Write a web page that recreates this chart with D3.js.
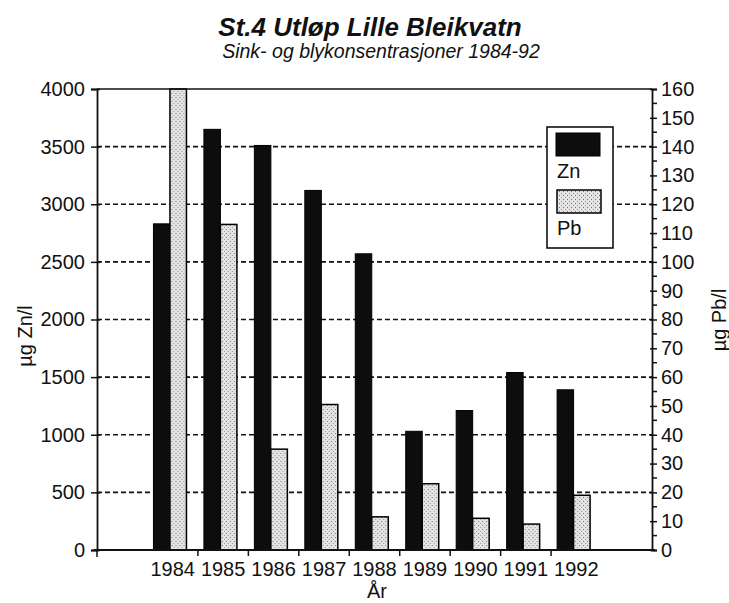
<!DOCTYPE html>
<html>
<head>
<meta charset="utf-8">
<script src="https://cdn.jsdelivr.net/npm/d3@7"></script>
<style>
  body { margin: 0; background: #fff; }
  text { font-family: "Liberation Sans", Arial, sans-serif; fill: #111; }
</style>
</head>
<body>
<div id="chart"></div>
<script>
// data
var years = ["1984", "1985", "1986", "1987", "1988", "1989", "1990", "1991", "1992"];
var zn = [2830, 3650, 3510, 3120, 2570, 1030, 1210, 1540, 1390];   // µg Zn/l
var pb = [160, 113, 35, 50.5, 11.5, 23, 11, 9, 19];                  // µg Pb/l
var znTicks = [0, 500, 1000, 1500, 2000, 2500, 3000, 3500, 4000];
var pbTicks = [0, 10, 20, 30, 40, 50, 60, 70, 80, 90, 100, 110, 120, 130, 140, 150, 160];
var seriesNames = ["Zn", "Pb"];

var W = 729, H = 603,
    m = {top: 89, right: 77, bottom: 53, left: 97};  // plot box 97..652 x 89..550
var iw = W - m.left - m.right, ih = H - m.top - m.bottom;

var svg = d3.select("#chart").append("svg")
    .attr("width", W).attr("height", H);

var defs = svg.append("defs");
// stipple for the Pb bars
var pat = defs.append("pattern").attr("id", "stip")
    .attr("width", 4).attr("height", 4).attr("patternUnits", "userSpaceOnUse");
pat.append("rect").attr("width", 4).attr("height", 4).attr("fill", "#e4e4e4");
pat.append("rect").attr("x", 0).attr("y", 0).attr("width", 1).attr("height", 1).attr("fill", "#777");
pat.append("rect").attr("x", 2).attr("y", 2).attr("width", 1).attr("height", 1).attr("fill", "#999");

var g = svg.append("g").attr("transform", "translate(" + m.left + "," + m.top + ")");

// 11 slots: empty, 1984..1992, empty
var slot = iw / (years.length + 2);
var x = d3.scaleBand().domain(years).range([slot, iw - slot]).paddingInner(0).paddingOuter(0);
var x1 = d3.scaleBand().domain(seriesNames).range([6, 39]);
var yZn = d3.scaleLinear().domain([0, 4000]).range([ih, 0]);
var yPb = d3.scaleLinear().domain([0, 160]).range([ih, 0]);

// dashed gridlines
g.selectAll(".grid").data(znTicks.filter(function(d) { return d > 0 && d < 4000; }))
  .enter().append("line")
    .attr("x1", 0).attr("x2", iw)
    .attr("y1", function(d) { return yZn(d); }).attr("y2", function(d) { return yZn(d); })
    .attr("stroke", "#111").attr("stroke-width", 1.7)
    .attr("stroke-dasharray", "5,3");

// bars
var grp = g.selectAll(".yr").data(years).enter().append("g")
    .attr("transform", function(d) { return "translate(" + x(d) + ",0)"; });

grp.append("rect")
    .attr("x", x1("Zn")).attr("width", x1.bandwidth())
    .attr("y", function(d, i) { return yZn(zn[i]); })
    .attr("height", function(d, i) { return ih - yZn(zn[i]); })
    .attr("fill", "#0d0d0d").attr("stroke", "#000").attr("stroke-width", 1);

grp.append("rect")
    .attr("x", x1("Pb")).attr("width", x1.bandwidth())
    .attr("y", function(d, i) { return yPb(pb[i]); })
    .attr("height", function(d, i) { return ih - yPb(pb[i]); })
    .attr("fill", "url(#stip)").attr("stroke", "#000").attr("stroke-width", 1.5);

// top frame line
g.append("line").attr("x1", 0).attr("x2", iw).attr("y1", 0).attr("y2", 0)
    .attr("stroke", "#111").attr("stroke-width", 1.6);

// left axis
var la = g.append("g").call(d3.axisLeft(yZn).tickValues(znTicks).tickFormat(d3.format("d")).tickSize(6).tickPadding(6));
la.select(".domain").attr("stroke", "#111").attr("stroke-width", 1.8);
la.selectAll(".tick line").attr("x2", -6).attr("x1", 3).attr("stroke", "#111").attr("stroke-width", 1.5);
la.selectAll("text").attr("font-size", 20).attr("font-family", "Liberation Sans, Arial, sans-serif").attr("fill", "#111");

// right axis with minor ticks every 5
var ra = g.append("g").attr("transform", "translate(" + iw + ",0)")
    .call(d3.axisRight(yPb).tickValues(pbTicks).tickSize(5).tickPadding(4));
ra.select(".domain").attr("stroke", "#111").attr("stroke-width", 1.8);
ra.selectAll(".tick line").attr("x1", -2).attr("stroke", "#111").attr("stroke-width", 1.5);
ra.selectAll("text").attr("font-size", 20).attr("font-family", "Liberation Sans, Arial, sans-serif").attr("fill", "#111");
ra.selectAll(".minor").data(d3.range(5, 160, 10)).enter().append("line")
    .attr("x1", 0).attr("x2", 5)
    .attr("y1", function(d) { return yPb(d); }).attr("y2", function(d) { return yPb(d); })
    .attr("stroke", "#111").attr("stroke-width", 1.5);

// bottom axis: baseline, ticks between categories, year labels
g.append("line").attr("x1", -3).attr("x2", iw + 3).attr("y1", ih).attr("y2", ih)
    .attr("stroke", "#111").attr("stroke-width", 1.8);
g.selectAll(".xt").data(years.slice(1)).enter().append("line")
    .attr("x1", function(d) { return x(d); }).attr("x2", function(d) { return x(d); })
    .attr("y1", ih).attr("y2", ih + 6)
    .attr("stroke", "#111").attr("stroke-width", 1.5);
g.append("line").attr("x1", 0).attr("x2", 0).attr("y1", ih).attr("y2", ih + 7)
    .attr("stroke", "#111").attr("stroke-width", 1.5);
g.selectAll(".xl").data(years).enter().append("text")
    .attr("x", function(d) { return x(d) + x.bandwidth() / 2; })
    .attr("y", ih + 26)
    .attr("text-anchor", "middle").attr("font-size", 20)
    .text(function(d) { return d; });

// legend
var lg = svg.append("g").attr("transform", "translate(547,127)");
lg.append("rect").attr("width", 66).attr("height", 121)
    .attr("fill", "#fff").attr("stroke", "#111").attr("stroke-width", 1.6);
lg.append("rect").attr("x", 9).attr("y", 6).attr("width", 44).attr("height", 23)
    .attr("fill", "#0d0d0d").attr("stroke", "#000");
lg.append("text").attr("x", 10).attr("y", 51).attr("font-size", 20).text("Zn");
lg.append("rect").attr("x", 10).attr("y", 63).attr("width", 44).attr("height", 23)
    .attr("fill", "url(#stip)").attr("stroke", "#000").attr("stroke-width", 1.5);
lg.append("text").attr("x", 10).attr("y", 108).attr("font-size", 20).text("Pb");

// titles
svg.append("text").attr("x", 370).attr("y", 36).attr("text-anchor", "middle")
    .attr("font-size", 26).attr("font-weight", "bold").attr("font-style", "italic")
    .text("St.4 Utløp Lille Bleikvatn");
svg.append("text").attr("x", 381).attr("y", 58).attr("text-anchor", "middle")
    .attr("font-size", 19.5).attr("font-style", "italic")
    .text("Sink- og blykonsentrasjoner 1984-92");

svg.append("text").attr("transform", "translate(32,336) rotate(-90)")
    .attr("text-anchor", "middle").attr("font-size", 20).text("µg Zn/l");
svg.append("text").attr("transform", "translate(726,320) rotate(-90)")
    .attr("text-anchor", "middle").attr("font-size", 20).text("µg Pb/l");
svg.append("text").attr("x", 377).attr("y", 598).attr("text-anchor", "middle")
    .attr("font-size", 20).text("År");
</script>
</body>
</html>
